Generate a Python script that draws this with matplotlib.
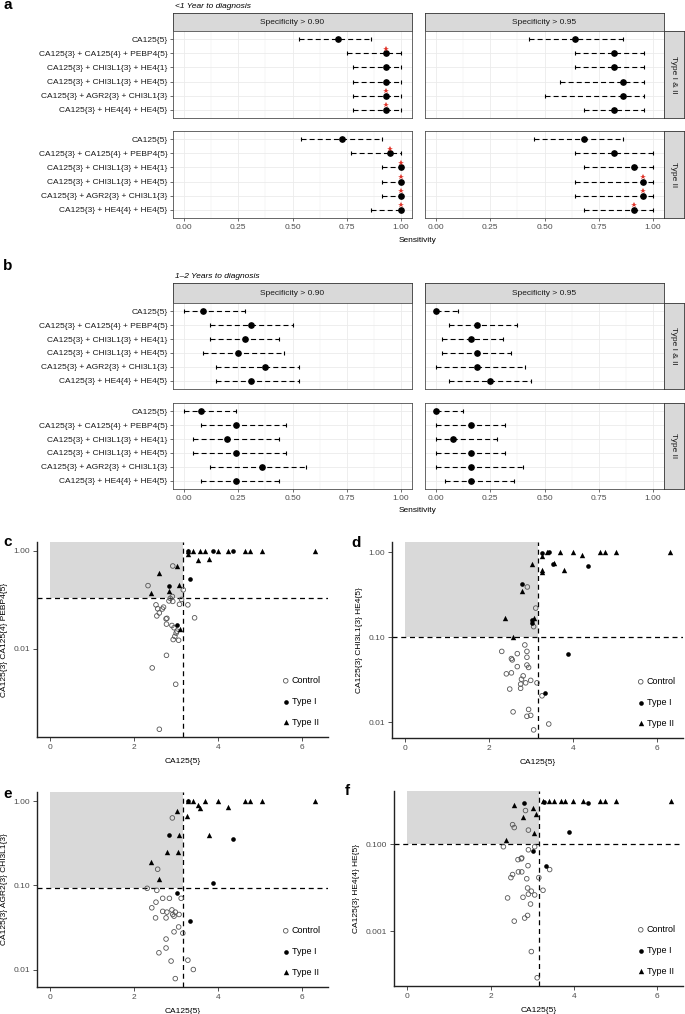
import numpy as np
import matplotlib.pyplot as plt

plt.rcParams['font.family'] = ['Liberation Sans', 'DejaVu Sans']
plt.rcParams['font.size'] = 6

W, H = 685, 1014

models = ['CA125{5}',
          'CA125{3} + CA125{4} + PEBP4{5}',
          'CA125{3} + CHI3L1{3} + HE4{1}',
          'CA125{3} + CHI3L1{3} + HE4{5}',
          'CA125{3} + AGR2{3} + CHI3L1{3}',
          'CA125{3} + HE4{4} + HE4{5}']

# ---- a: <1 year to diagnosis
a_all90_est = [0.71, 0.93, 0.93, 0.93, 0.93, 0.93]
a_all90_lo = [0.53, 0.75, 0.78, 0.78, 0.78, 0.78]
a_all90_hi = [0.86, 1.0, 1.0, 1.0, 1.0, 1.0]
a_all90_sig = [0, 1, 0, 0, 1, 1]

a_all95_est = [0.64, 0.82, 0.82, 0.86, 0.86, 0.82]
a_all95_lo = [0.43, 0.64, 0.64, 0.57, 0.50, 0.68]
a_all95_hi = [0.86, 0.96, 0.96, 0.96, 0.96, 0.96]
a_all95_sig = [0, 0, 0, 0, 0, 0]

a_t2_90_est = [0.73, 0.95, 1.0, 1.0, 1.0, 1.0]
a_t2_90_lo = [0.54, 0.77, 0.91, 0.91, 0.91, 0.86]
a_t2_90_hi = [0.91, 1.0, 1.0, 1.0, 1.0, 1.0]
a_t2_90_sig = [0, 1, 1, 1, 1, 1]

a_t2_95_est = [0.68, 0.82, 0.91, 0.955, 0.955, 0.91]
a_t2_95_lo = [0.45, 0.64, 0.68, 0.64, 0.64, 0.68]
a_t2_95_hi = [0.86, 1.0, 1.0, 1.0, 1.0, 1.0]
a_t2_95_sig = [0, 0, 0, 1, 1, 1]

# ---- b: 1-2 years to diagnosis
b_all90_est = [0.09, 0.31, 0.28, 0.25, 0.375, 0.31]
b_all90_lo = [0.0, 0.12, 0.12, 0.09, 0.15, 0.15]
b_all90_hi = [0.28, 0.50, 0.44, 0.46, 0.53, 0.53]

b_all95_est = [0.0, 0.19, 0.16, 0.19, 0.19, 0.25]
b_all95_lo = [0.0, 0.06, 0.03, 0.03, 0.0, 0.06]
b_all95_hi = [0.10, 0.375, 0.31, 0.345, 0.41, 0.44]

b_t2_90_est = [0.08, 0.24, 0.20, 0.24, 0.36, 0.24]
b_t2_90_lo = [0.0, 0.08, 0.04, 0.04, 0.12, 0.08]
b_t2_90_hi = [0.24, 0.47, 0.44, 0.47, 0.56, 0.44]

b_t2_95_est = [0.0, 0.16, 0.08, 0.16, 0.16, 0.16]
b_t2_95_lo = [0.0, 0.0, 0.0, 0.0, 0.0, 0.04]
b_t2_95_hi = [0.125, 0.32, 0.28, 0.32, 0.40, 0.36]
no_sig = [0, 0, 0, 0, 0, 0]

# ---- c: CA125{3} CA125{4} PEBP4{5}
c_ctrl_x = [2.92, 2.33, 3.17, 2.91, 2.86, 2.83, 2.92, 3.13, 3.08, 3.28, 2.52, 2.56, 2.70, 2.67, 2.60, 2.54,
            2.78, 2.76, 3.44, 2.77, 2.90, 2.95, 3.02, 3.00, 2.97, 2.93, 3.06, 2.77, 2.43, 2.99, 2.60]
c_ctrl_y = [0.49, 0.195, 0.16, 0.117, 0.107, 0.095, 0.093, 0.102, 0.081, 0.079, 0.079, 0.066, 0.071, 0.065,
            0.054, 0.047, 0.042, 0.041, 0.043, 0.032, 0.030, 0.027, 0.023, 0.021, 0.018, 0.0155, 0.015,
            0.0074, 0.0041, 0.0019, 0.00023]
c_t1_x = [3.28, 3.89, 4.35, 3.33, 2.82, 3.02]
c_t1_y = [0.98, 0.97, 1.0, 0.27, 0.19, 0.030]
c_t2_x = [3.28, 3.41, 3.56, 3.69, 3.99, 4.23, 4.63, 4.75, 5.04, 6.31, 3.29, 3.52, 3.79, 3.03, 2.60, 3.06,
          2.82, 2.40, 3.10]
c_t2_y = [1.0, 1.0, 1.0, 1.0, 1.0, 1.0, 1.0, 1.0, 1.0, 1.0, 0.855, 0.635, 0.676, 0.48, 0.355, 0.20,
          0.155, 0.141, 0.025]

# ---- d: CA125{3} CHI3L1{3} HE4{5}
d_ctrl_x = [2.91, 3.11, 3.06, 2.85, 2.30, 2.90, 2.67, 2.90, 2.53, 2.55, 2.67, 2.90, 2.94, 2.41, 2.53, 2.81,
            2.77, 2.75, 2.75, 2.99, 2.87, 3.14, 2.49, 3.26, 2.57, 2.94, 2.99, 2.90, 3.42, 3.06]
d_ctrl_y = [0.39, 0.22, 0.133, 0.081, 0.068, 0.068, 0.064, 0.058, 0.056, 0.054, 0.045, 0.047, 0.044, 0.037,
            0.038, 0.035, 0.032, 0.028, 0.025, 0.031, 0.029, 0.029, 0.0245, 0.0204, 0.0132, 0.0141,
            0.012, 0.0117, 0.0095, 0.0081]
d_t1_x = [3.26, 3.42, 3.51, 4.35, 2.79, 3.03, 3.02, 3.89, 3.32]
d_t1_y = [0.98, 1.0, 0.73, 0.68, 0.42, 0.16, 0.146, 0.063, 0.022]
d_t2_x = [3.02, 3.26, 3.69, 3.99, 4.21, 4.63, 4.75, 5.03, 6.32, 3.39, 3.55, 3.27, 3.25, 3.79, 2.79, 2.38,
          3.07, 2.57]
d_t2_y = [0.73, 0.91, 1.0, 1.0, 0.94, 1.0, 1.0, 1.0, 1.0, 1.0, 0.75, 0.61, 0.59, 0.62, 0.35, 0.17,
          0.17, 0.10]

# ---- e: CA125{3} AGR2{3} CHI3L1{3}
e_ctrl_x = [2.91, 2.56, 2.31, 2.54, 2.68, 2.84, 3.12, 2.52, 2.42, 2.68, 2.78, 2.90, 2.98, 2.92, 3.07, 2.76,
            2.51, 2.95, 3.06, 2.95, 3.16, 2.76, 2.76, 2.59, 2.88, 3.28, 3.41, 2.98]
e_ctrl_y = [0.63, 0.155, 0.092, 0.087, 0.070, 0.070, 0.070, 0.063, 0.054, 0.049, 0.048, 0.051, 0.048, 0.045,
            0.045, 0.041, 0.041, 0.043, 0.032, 0.028, 0.027, 0.023, 0.018, 0.0158, 0.0126, 0.0129,
            0.010, 0.0078]
e_t1_x = [3.28, 2.82, 4.35, 3.89, 3.02, 3.32]
e_t1_y = [1.0, 0.40, 0.35, 0.106, 0.080, 0.038]
e_t2_x = [3.28, 3.41, 3.53, 3.56, 3.69, 3.99, 4.23, 4.63, 4.75, 5.04, 6.31, 3.03, 3.25, 3.79, 3.08, 2.79,
          3.04, 2.40, 2.60]
e_t2_y = [1.0, 0.99, 0.90, 0.83, 1.0, 1.0, 0.85, 1.0, 1.0, 1.0, 1.0, 0.76, 0.66, 0.40, 0.40, 0.25,
          0.25, 0.19, 0.12]

# ---- f: CA125{3} HE4{4} HE{5}
f_ctrl_x = [2.84, 2.53, 2.57, 2.91, 2.31, 2.91, 3.06, 2.66, 2.74, 2.75, 2.90, 3.42, 2.53, 2.49, 2.67, 2.75,
            2.87, 3.16, 2.89, 2.98, 3.26, 2.91, 3.06, 2.41, 2.78, 2.96, 2.89, 2.82, 2.57, 2.98, 3.12]
f_ctrl_y = [0.59, 0.28, 0.24, 0.21, 0.087, 0.074, 0.087, 0.044, 0.046, 0.048, 0.032, 0.026, 0.020, 0.017,
            0.023, 0.023, 0.016, 0.017, 0.0098, 0.0083, 0.0087, 0.0071, 0.0068, 0.0058, 0.0060, 0.0042,
            0.0023, 0.0020, 0.0017, 0.00034, 0.000085]
f_t1_x = [2.80, 3.28, 4.35, 3.89, 3.01, 3.32]
f_t1_y = [0.90, 0.95, 0.86, 0.19, 0.070, 0.031]
f_t2_x = [3.26, 3.40, 3.52, 3.68, 3.79, 3.97, 4.21, 4.62, 4.74, 5.02, 6.32, 2.57, 3.01, 3.08, 2.79, 3.04,
          2.38]
f_t2_y = [1.0, 1.0, 1.0, 1.0, 1.0, 1.0, 1.0, 1.0, 1.0, 1.0, 1.0, 0.81, 0.66, 0.50, 0.43, 0.18, 0.126]

fig = plt.figure(figsize=(W / 100, H / 100), dpi=100)


def box(x0, x1, y0, y1):
    return [x0 / W, 1 - y1 / H, (x1 - x0) / W, (y1 - y0) / H]


def strip(x0, x1, y0, y1, text, rot=0):
    s = fig.add_axes(box(x0, x1, y0, y1))
    s.set_facecolor('#D9D9D9')
    s.set_xticks([])
    s.set_yticks([])
    for sp in s.spines.values():
        sp.set_color('#333333')
        sp.set_linewidth(0.6)
    s.text(0.5, 0.5, text, ha='center', va='center', rotation=rot, fontsize=6,
           color='#1A1A1A', transform=s.transAxes)


def forest(pos, est, lo, hi, sig, show_y, show_x):
    ax = fig.add_axes(box(*pos))
    y = np.arange(len(models))
    ax.hlines(y, lo, hi, colors='black', linestyles=(0, (4.5, 2.8)), lw=0.8, zorder=2)
    ax.plot(lo, y, '|', color='black', ms=3, mew=0.8, zorder=2)
    ax.plot(hi, y, '|', color='black', ms=3, mew=0.8, zorder=2)
    ax.plot(est, y, 'o', color='black', ms=3.8, zorder=3)
    s = np.array(sig, bool)
    ax.plot(np.array(est)[s], y[s] - 0.33, '*', color='#E0362C', ms=4, mew=0, zorder=4)
    ax.set_xlim(-0.05, 1.05)
    ax.set_ylim(5.6, -0.6)
    ax.set_xticks([0, 0.25, 0.5, 0.75, 1.0])
    ax.set_xticks([0.125, 0.375, 0.625, 0.875], minor=True)
    ax.set_yticks(y)
    ax.grid(which='major', color='#EBEBEB', lw=0.6)
    ax.grid(which='minor', axis='x', color='#EBEBEB', lw=0.35)
    ax.set_axisbelow(True)
    for sp in ax.spines.values():
        sp.set_color('#4D4D4D')
        sp.set_linewidth(0.6)
    ax.tick_params(which='minor', length=0)
    ax.tick_params(length=2, width=0.5, color='#333333', labelcolor='#4D4D4D', pad=2)
    if show_y:
        ax.set_yticklabels(models, fontsize=6, color='#1A1A1A')
    else:
        ax.tick_params(axis='y', length=0, labelleft=False)
    if show_x:
        ax.set_xticklabels(['0.00', '0.25', '0.50', '0.75', '1.00'], fontsize=6)
    else:
        ax.tick_params(axis='x', length=0, labelbottom=False)
    return ax


def forest_block(top, rows_px, data, subtitle, sens_y, letter, letter_y):
    fig.text(3 / W, 1 - letter_y / H, letter, fontsize=11, fontweight='bold', va='center')
    fig.text(175 / W, 1 - (top - 6) / H, subtitle, fontsize=6, style='italic', va='center')
    strip(173, 412, top, rows_px[0][0], 'Specificity > 0.90')
    strip(425, 664, top, rows_px[0][0], 'Specificity > 0.95')
    for r, (y0, y1) in enumerate(rows_px):
        last = r == len(rows_px) - 1
        d90, d95, label = data[r]
        forest((173, 412, y0, y1), *d90, True, last)
        forest((425, 664, y0, y1), *d95, False, last)
        strip(664, 684, y0, y1, label, rot=-90)
    fig.text(418 / W, 1 - sens_y / H, 'Sensitivity', ha='center', va='center', fontsize=6)


forest_block(13, [(31, 118), (131, 218)],
             [((a_all90_est, a_all90_lo, a_all90_hi, a_all90_sig),
               (a_all95_est, a_all95_lo, a_all95_hi, a_all95_sig), 'Type I & II'),
              ((a_t2_90_est, a_t2_90_lo, a_t2_90_hi, a_t2_90_sig),
               (a_t2_95_est, a_t2_95_lo, a_t2_95_hi, a_t2_95_sig), 'Type II')],
             '<1 Year to diagnosis', 240, 'a', 5)

forest_block(283, [(303, 389), (403, 489)],
             [((b_all90_est, b_all90_lo, b_all90_hi, no_sig),
               (b_all95_est, b_all95_lo, b_all95_hi, no_sig), 'Type I & II'),
              ((b_t2_90_est, b_t2_90_lo, b_t2_90_hi, no_sig),
               (b_t2_95_est, b_t2_95_lo, b_t2_95_hi, no_sig), 'Type II')],
             '1\u20132 Years to diagnosis', 510, 'b', 266)


def scatter_panel(pos, cx, cy, t1x, t1y, t2x, t2y, cut_x, cut_y, ylim, yticks, ylabels, ylab,
                  letter, letter_xy):
    ax = fig.add_axes(box(*pos))
    ax.set_yscale('log')
    ax.set_xlim(-0.316, 6.62)
    ax.set_ylim(*ylim)
    ax.fill_between([0, cut_x], cut_y, ylim[1], color='#D9D9D9', lw=0, zorder=0)
    ax.axhline(cut_y, color='black', ls=(0, (4, 3)), lw=0.9, zorder=1)
    ax.axvline(cut_x, color='black', ls=(0, (4, 3)), lw=0.9, zorder=1)
    ax.scatter(cx, cy, s=11, facecolors='none', edgecolors='#555555', linewidths=0.6,
               label='Control', zorder=3)
    ax.scatter(t1x, t1y, s=11, color='black', lw=0, label='Type I', zorder=3)
    ax.scatter(t2x, t2y, s=15, marker='^', color='black', lw=0, label='Type II', zorder=3)
    ax.set_xticks([0, 2, 4, 6])
    ax.set_yticks(yticks)
    ax.set_yticklabels(ylabels)
    ax.minorticks_off()
    ax.set_xlabel('CA125{5}', fontsize=6, labelpad=5)
    ax.set_ylabel(ylab, fontsize=6, labelpad=4)
    for side in ['top', 'right']:
        ax.spines[side].set_visible(False)
    for side in ['left', 'bottom']:
        ax.spines[side].set_color('#222222')
        ax.spines[side].set_linewidth(1.0)
    ax.tick_params(length=3, width=0.6, color='#333333', labelcolor='#4D4D4D', labelsize=6, pad=2)
    ax.legend(loc='lower right', bbox_to_anchor=(0.99, 0.03), frameon=False, fontsize=6.5,
              handletextpad=0.2, handlelength=0.9, labelspacing=1.3, borderpad=0)
    fig.text(letter_xy[0] / W, 1 - letter_xy[1] / H, letter, fontsize=11, fontweight='bold',
             va='center')


scatter_panel((37, 328, 542, 737), c_ctrl_x, c_ctrl_y, c_t1_x, c_t1_y, c_t2_x, c_t2_y, 3.16, 0.11,
              (1.6e-4, 1.51), [0.01, 1.0], ['0.01', '1.00'], 'CA125{3} CA125{4} PEBP4{5}', 'c', (3, 542))
scatter_panel((392, 683, 542, 738), d_ctrl_x, d_ctrl_y, d_t1_x, d_t1_y, d_t2_x, d_t2_y, 3.16, 0.10,
              (0.0065, 1.32), [0.01, 0.1, 1.0], ['0.01', '0.10', '1.00'], 'CA125{3} CHI3L1{3} HE4{5}',
              'd', (351, 543))
scatter_panel((37, 328, 792, 987), e_ctrl_x, e_ctrl_y, e_t1_x, e_t1_y, e_t2_x, e_t2_y, 3.16, 0.092,
              (0.0062, 1.28), [0.01, 0.1, 1.0], ['0.01', '0.10', '1.00'], 'CA125{3} AGR2{3} CHI3L1{3}',
              'e', (3, 794))
scatter_panel((394, 683, 791, 986), f_ctrl_x, f_ctrl_y, f_t1_x, f_t1_y, f_t2_x, f_t2_y, 3.16, 0.10,
              (5.5e-5, 1.66), [0.001, 0.1], ['0.001', '0.100'], 'CA125{3} HE4{4} HE{5}',
              'f', (345, 791))

fig.savefig('out.png', dpi=100)
